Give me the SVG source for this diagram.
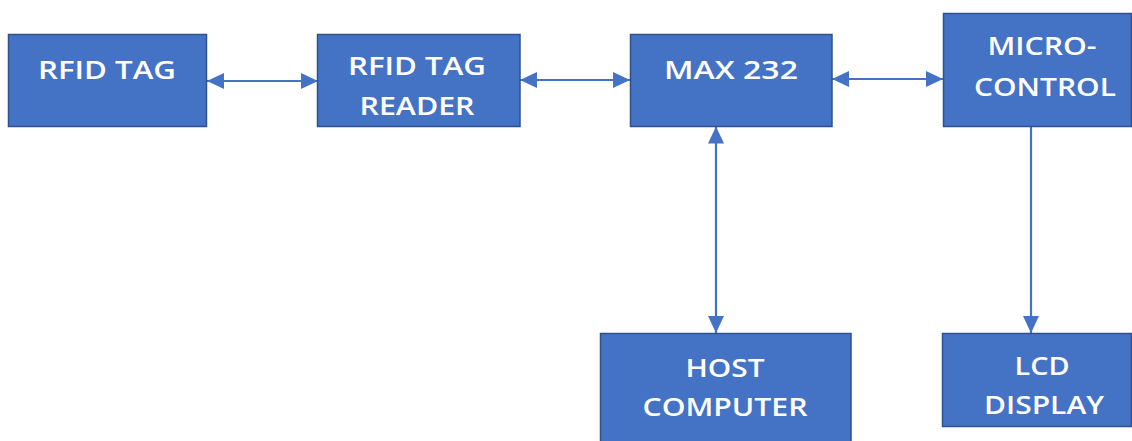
<svg xmlns="http://www.w3.org/2000/svg" width="1132" height="441" viewBox="0 0 1132 441">
<style>
.box{fill:#4472C4;stroke:#2F528F;stroke-width:1.5}
.lbl{font-family:"Open Sans","Liberation Sans",sans-serif;font-weight:600;font-size:26px;fill:#FFFFFF;text-anchor:middle}
.con{stroke:#4472C4;stroke-width:2.2;fill:none}
</style>
<defs>
<marker id="ah" markerUnits="userSpaceOnUse" viewBox="0 0 17 16" refX="17" refY="8" markerWidth="17" markerHeight="16" orient="auto-start-reverse">
<path d="M0,0 L17,8 L0,16 z" fill="#4472C4"/>
</marker>
</defs>
<rect width="1132" height="441" fill="#FFFFFF"/>
<g id="connectors">
<line class="con" x1="207" y1="81" x2="318" y2="81" marker-start="url(#ah)" marker-end="url(#ah)"/>
<line class="con" x1="520" y1="80" x2="630" y2="80" marker-start="url(#ah)" marker-end="url(#ah)"/>
<line class="con" x1="832" y1="79" x2="943" y2="79" marker-start="url(#ah)" marker-end="url(#ah)"/>
<line class="con" x1="716" y1="126.5" x2="716" y2="333" marker-start="url(#ah)" marker-end="url(#ah)"/>
<line class="con" x1="1031" y1="126.5" x2="1031" y2="333" marker-end="url(#ah)"/>
</g>
<g id="rfid-tag">
<rect class="box" x="8.5" y="34.5" width="198" height="92"/>
<text class="lbl" x="107" y="79" textLength="138" lengthAdjust="spacingAndGlyphs">RFID TAG</text>
</g>
<g id="rfid-reader">
<rect class="box" x="317.5" y="34.5" width="202.5" height="92"/>
<text class="lbl" x="417" y="75" textLength="138" lengthAdjust="spacingAndGlyphs">RFID TAG</text>
<text class="lbl" x="417" y="115" textLength="115" lengthAdjust="spacingAndGlyphs">READER</text>
</g>
<g id="max232">
<rect class="box" x="630.5" y="34.5" width="201.5" height="92"/>
<text class="lbl" x="731" y="79" textLength="134" lengthAdjust="spacingAndGlyphs">MAX 232</text>
</g>
<g id="micro">
<rect class="box" x="943.5" y="13.5" width="188" height="113"/>
<text class="lbl" x="1042" y="55" textLength="109" lengthAdjust="spacingAndGlyphs">MICRO-</text>
<text class="lbl" x="1045" y="96" textLength="142" lengthAdjust="spacingAndGlyphs">CONTROL</text>
</g>
<g id="host">
<rect class="box" x="600.5" y="333.5" width="250.5" height="112"/>
<text class="lbl" x="725" y="376.5" textLength="79" lengthAdjust="spacingAndGlyphs">HOST</text>
<text class="lbl" x="725" y="415.5" textLength="165" lengthAdjust="spacingAndGlyphs">COMPUTER</text>
</g>
<g id="lcd">
<rect class="box" x="942.5" y="333.5" width="189" height="93"/>
<text class="lbl" x="1042" y="375" textLength="55" lengthAdjust="spacingAndGlyphs">LCD</text>
<text class="lbl" x="1044" y="414" textLength="120" lengthAdjust="spacingAndGlyphs">DISPLAY</text>
</g>
</svg>
